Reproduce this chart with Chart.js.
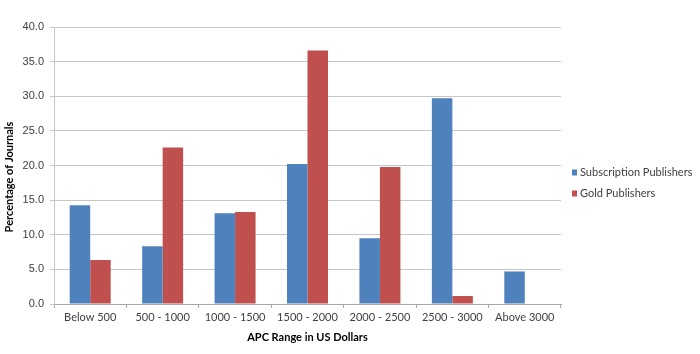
<!DOCTYPE html>
<html>
<head>
<meta charset="utf-8">
<script src="https://cdn.jsdelivr.net/npm/chart.js@4/dist/chart.umd.min.js"></script>
<style>
  html, body { margin: 0; padding: 0; background: #ffffff; }
  #wrap { width: 700px; height: 354px; position: relative; }
</style>
</head>
<body>
<div id="wrap"><canvas id="c" width="700" height="354"></canvas></div>
<script>
const categories = ["Below 500", "500 - 1000", "1000 - 1500", "1500 - 2000", "2000 - 2500", "2500 - 3000", "Above 3000"];
const subscriptionPublishers = [14.25, 8.35, 13.1, 20.2, 9.5, 29.7, 4.7];
const goldPublishers = [6.35, 22.6, 13.3, 36.6, 19.8, 1.15, null];
const seriesNames = ["Subscription Publishers", "Gold Publishers"];
const yTicks = [0, 5, 10, 15, 20, 25, 30, 35, 40];
const xTitle = "APC Range in US Dollars";
const yTitle = "Percentage of Journals";

const BLUE = "#4F81BD";
const RED = "#C0504D";
const TEXT = "#404040";

const overlay = {
  id: "overlay",
  afterDraw(chart) {
    const ctx = chart.ctx;
    const ca = chart.chartArea;
    ctx.save();
    ctx.fillStyle = "#000000";
    ctx.font = "bold 11px Lato";
    ctx.textAlign = "center";
    ctx.textBaseline = "middle";
    ctx.translate(9, 177);
    ctx.rotate(-Math.PI / 2);
    ctx.fillText(yTitle, 0, 0);
    ctx.restore();

    ctx.save();
    ctx.fillStyle = "#000000";
    ctx.font = "bold 11px Lato";
    ctx.textAlign = "center";
    ctx.textBaseline = "middle";
    ctx.fillText(xTitle, (ca.left + ca.right) / 2, 337.5);
    ctx.restore();

    ctx.save();
    ctx.font = "11px Lato";
    ctx.textBaseline = "middle";
    ctx.textAlign = "left";
    chart.data.datasets.forEach((ds, i) => {
      const y = 172.5 + i * 21;
      ctx.fillStyle = ds.backgroundColor;
      ctx.fillRect(572, y - 3, 5, 6);
      ctx.fillStyle = TEXT;
      ctx.fillText(ds.label, 580, y);
    });
    ctx.restore();
  }
};

new Chart(document.getElementById("c"), {
  type: "bar",
  data: {
    labels: categories,
    datasets: [
      { label: seriesNames[0], data: subscriptionPublishers, backgroundColor: BLUE, borderWidth: 0 },
      { label: seriesNames[1], data: goldPublishers, backgroundColor: RED, borderWidth: 0 }
    ]
  },
  options: {
    responsive: false,
    animation: false,
    devicePixelRatio: 1,
    layout: { padding: { left: 0, right: 139, top: 27, bottom: 0 } },
    plugins: { legend: { display: false }, tooltip: { enabled: false }, title: { display: false } },
    datasets: { bar: { categoryPercentage: 0.566, barPercentage: 1.0 } },
    scales: {
      x: {
        grid: { display: true, drawOnChartArea: false, drawTicks: true, tickLength: 4, color: "#a6a6a6", offset: true },
        border: { display: true, color: "#a6a6a6", width: 1 },
        ticks: { color: TEXT, font: { family: "Lato", size: 11 }, padding: 3, maxRotation: 0, autoSkip: false },
        afterFit(scale) { scale.height = 50; }
      },
      y: {
        min: 0, max: 40,
        afterBuildTicks(scale) { scale.ticks = yTicks.map(v => ({ value: v })); },
        grid: { color: "#c6c6c6", lineWidth: 1, drawTicks: true, tickLength: 4 },
        border: { display: true, color: "#c6c6c6", width: 1 },
        ticks: { color: TEXT, font: { family: "Liberation Sans", size: 11 }, padding: 6, callback: v => Number(v).toFixed(1) },
        afterFit(scale) { scale.width = 54; }
      }
    }
  },
  plugins: [overlay]
});
</script>
</body>
</html>
